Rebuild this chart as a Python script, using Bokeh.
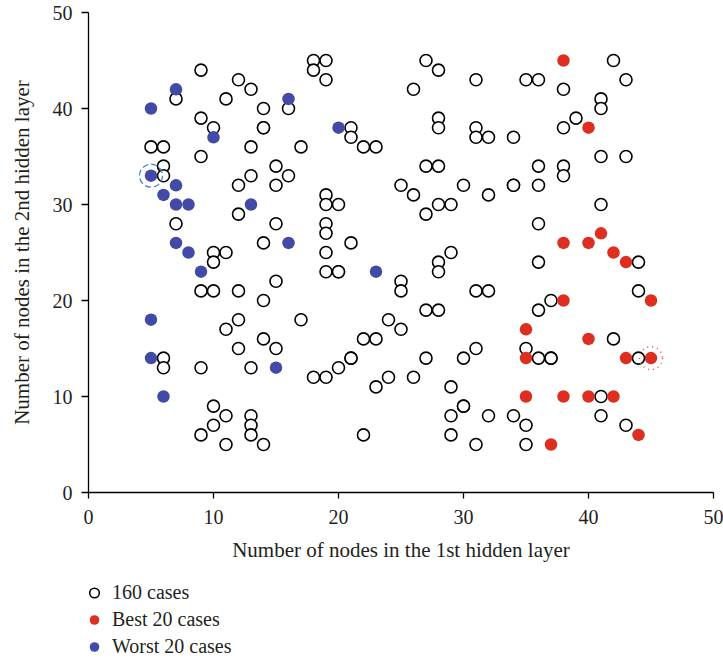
from bokeh.plotting import figure
from bokeh.layouts import column
from bokeh.models import Range1d, Legend, LegendItem, FixedTicker
from bokeh.embed import file_html
from bokeh.resources import INLINE

# ---- data ----
white_x = [9, 12, 13, 7, 11, 14, 16, 9, 10, 14, 14, 5, 6, 13, 9, 6, 15, 6, 13, 16, 17,
           18, 19, 18, 19, 21, 21, 22, 23, 27, 28, 26, 31, 28, 28, 31, 31, 32, 27, 28,
           42, 35, 36, 43, 38, 41, 41, 39, 38, 34, 41, 43, 36, 38, 38,
           12, 15, 12, 7, 15, 14, 10, 11, 10, 15, 9, 10, 12, 14, 12, 11, 17,
           25, 26, 30, 32, 28, 29, 27, 19, 19, 20, 19, 19, 21, 19, 19, 20, 20, 29, 28, 28,
           25, 25, 31, 32, 27, 28, 24, 25,
           34, 34, 36, 41, 36, 44, 36, 44, 37, 36,
           14, 12, 15, 6, 6, 9, 13, 10, 11, 10, 9, 11, 13, 13, 13, 14,
           22, 23, 21, 21, 20, 18, 19, 23, 24, 26, 27, 30, 31, 29, 30, 30, 29, 32, 29, 31, 22,
           35, 36, 37, 37, 42, 44, 41, 34, 41, 35, 43, 35]
white_y = [44, 43, 42, 41, 41, 40, 40, 39, 38, 38, 38, 36, 36, 36, 35, 34, 34, 33, 33, 33, 36,
           45, 45, 44, 43, 38, 37, 36, 36, 45, 44, 42, 43, 39, 38, 38, 37, 37, 34, 34,
           45, 43, 43, 43, 42, 41, 40, 39, 38, 37, 35, 35, 34, 34, 33,
           32, 32, 29, 28, 28, 26, 25, 25, 24, 22, 21, 21, 21, 20, 18, 17, 18,
           32, 31, 32, 31, 30, 30, 29, 31, 30, 30, 28, 27, 26, 25, 23, 23, 23, 25, 24, 23,
           22, 21, 21, 21, 19, 19, 18, 17,
           32, 32, 32, 30, 28, 24, 24, 21, 20, 19,
           16, 15, 15, 14, 13, 13, 13, 9, 8, 7, 6, 5, 8, 7, 6, 5,
           16, 16, 14, 14, 13, 12, 12, 11, 12, 12, 14, 14, 15, 11, 9, 9, 8, 8, 6, 5, 6,
           15, 14, 14, 14, 16, 14, 10, 8, 8, 7, 7, 5]

best_x = [38, 40, 38, 40, 41, 42, 43, 45, 38, 35, 40, 35, 43, 45, 35, 38, 40, 42, 44, 37]
best_y = [45, 38, 26, 26, 27, 25, 24, 20, 20, 17, 16, 14, 14, 14, 10, 10, 10, 10, 6, 5]

worst_x = [7, 5, 16, 10, 20, 5, 7, 6, 7, 8, 13, 7, 16, 8, 9, 23, 5, 5, 15, 6]
worst_y = [42, 40, 41, 37, 38, 33, 32, 31, 30, 30, 30, 26, 26, 25, 23, 23, 18, 14, 13, 10]

# highlighted cases
hl_worst = ([5], [33])
hl_best = ([45], [14])

ticks = [0, 10, 20, 30, 40, 50]
x_label = "Number of nodes in the 1st hidden layer"
y_label = "Number of nodes in the 2nd hidden layer"
legend_labels = ["160 cases", "Best 20 cases", "Worst 20 cases"]

RED = "#dd2e20"
BLUE = "#4249a6"
FONT = "Liberation Serif"
TEXT = "#231f20"

MAIN_H = 575
LEG_H = 661 - MAIN_H

p = figure(width=723, height=MAIN_H, output_backend="svg", toolbar_location=None,
           x_range=Range1d(0, 50), y_range=Range1d(0, 50),
           min_border_left=88, min_border_right=10, min_border_top=12,
           min_border_bottom=MAIN_H - 492)
p.outline_line_color = None
p.grid.visible = False
p.background_fill_color = "white"
p.border_fill_color = "white"

for ax in (p.xaxis[0], p.yaxis[0]):
    ax.ticker = FixedTicker(ticks=ticks)
    ax.minor_tick_line_color = None
    ax.major_tick_in = 0
    ax.axis_line_color = "black"
    ax.axis_line_width = 1.3
    ax.major_tick_line_width = 1.3
    ax.major_label_text_font = FONT
    ax.major_label_text_font_size = "20px"
    ax.major_label_text_color = TEXT
    ax.axis_label_text_font = FONT
    ax.axis_label_text_font_size = "21px"
    ax.axis_label_text_font_style = "normal"
    ax.axis_label_text_color = TEXT

p.xaxis.axis_label = x_label
p.yaxis.axis_label = y_label
p.xaxis.major_tick_out = 6
p.yaxis.major_tick_out = 7
p.xaxis.major_label_standoff = 11
p.xaxis.axis_label_standoff = 11
p.yaxis.major_label_standoff = 9
p.yaxis.axis_label_standoff = 16

white_style = dict(marker="circle", fill_color="white", line_color="black", line_width=1.6)
best_style = dict(marker="circle", fill_color=RED, line_color=None)
worst_style = dict(marker="circle", fill_color=BLUE, line_color=None)

p.scatter(white_x, white_y, size=12, **white_style)
p.scatter(best_x, best_y, size=12.5, **best_style)
p.scatter(worst_x, worst_y, size=12.5, **worst_style)

p.scatter(hl_worst[0], hl_worst[1], marker="circle", size=23, fill_color=None,
          line_color="#4a86c8", line_width=1.3, line_dash="6 3")
p.scatter(hl_best[0], hl_best[1], marker="circle", size=23, fill_color=None,
          line_color="#e8584a", line_width=1.5, line_dash="1 4")

# ---- legend strip below the chart (proxy renderers hold no visible point) ----
q = figure(width=723, height=LEG_H, output_backend="svg", toolbar_location=None,
           x_range=Range1d(0, 1), y_range=Range1d(0, 1),
           x_axis_type=None, y_axis_type=None,
           min_border=0)
q.outline_line_color = None
q.grid.visible = False
q.background_fill_color = "white"
q.border_fill_color = "white"

nan = float("nan")
lw = q.scatter([nan], [nan], size=10, **white_style)
lb = q.scatter([nan], [nan], size=10, **best_style)
lk = q.scatter([nan], [nan], size=10, **worst_style)

legend = Legend(items=[LegendItem(label=legend_labels[0], renderers=[lw]),
                       LegendItem(label=legend_labels[1], renderers=[lb]),
                       LegendItem(label=legend_labels[2], renderers=[lk])],
                location=(-6, 2.5), orientation="vertical",
                padding=0, margin=0, spacing=2, glyph_width=24, glyph_height=25,
                label_standoff=6, label_text_font=FONT, label_text_font_size="20px",
                label_text_color=TEXT,
                border_line_color=None, background_fill_alpha=0)
q.add_layout(legend, "center")

layout = column(p, q, spacing=0)
open("out.html", "w").write(file_html(layout, INLINE))
